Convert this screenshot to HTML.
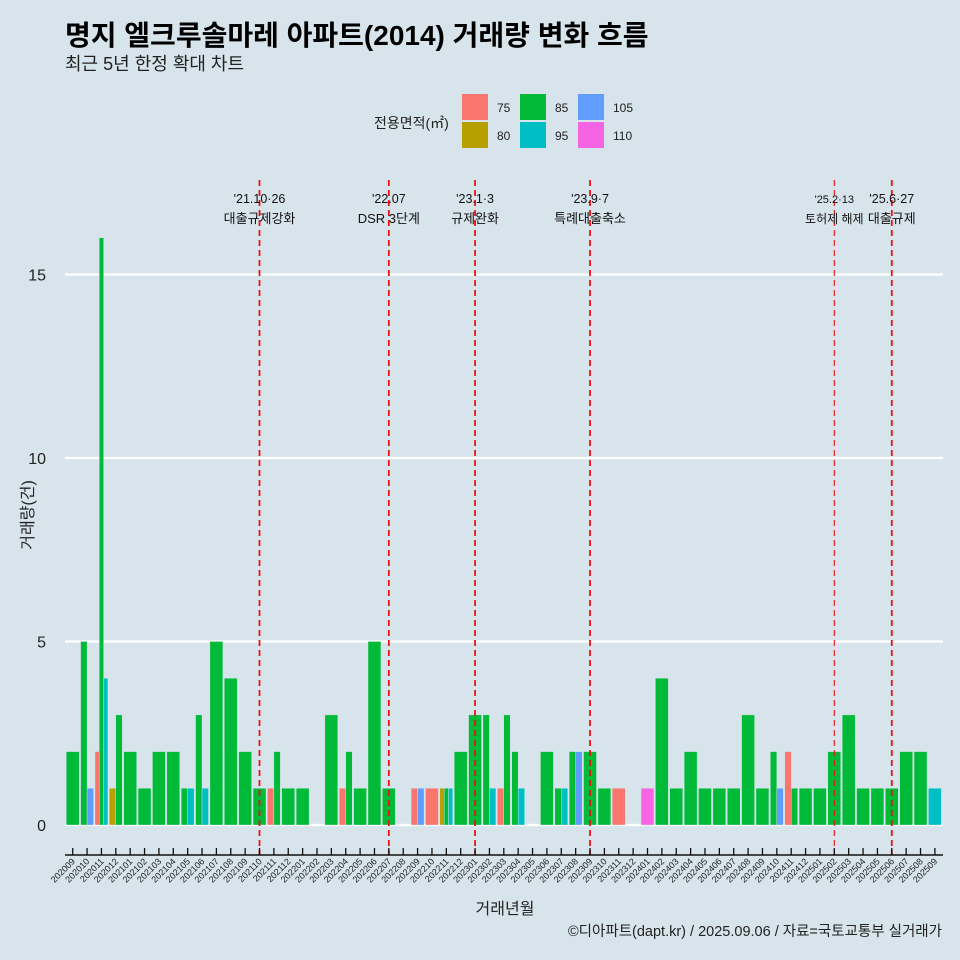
<!DOCTYPE html>
<html><head><meta charset="utf-8">
<style>
body{margin:0;background:#d7e4eb;}
svg{display:block;font-family:"Liberation Sans","Noto Sans CJK KR",sans-serif;}
</style></head>
<body>
<svg id="chart" width="960" height="960" viewBox="0 0 960 960">
<rect width="960" height="960" fill="#d7e4eb"/>
<text x="65" y="45" font-size="28" font-weight="bold" fill="#000">명지 엘크루솔마레 아파트(2014) 거래량 변화 흐름</text>
<text x="65" y="70" font-size="18" fill="#222">최근 5년 한정 확대 차트</text>
<g id="legend">
<text x="374" y="128" font-size="14" fill="#222">전용면적(㎡)</text>
</g>
<g id="grid"></g>
<g id="bars"></g>
<g id="events"></g>
<g id="axes"></g>
<text x="505" y="914" font-size="16" text-anchor="middle" fill="#222">거래년월</text>
<text transform="translate(33,515) rotate(-90)" font-size="16" text-anchor="middle" fill="#222">거래량(건)</text>
<text x="942" y="936" font-size="14.5" text-anchor="end" fill="#222">©디아파트(dapt.kr) / 2025.09.06 / 자료=국토교통부 실거래가</text>
</svg>
<script>
const areas = ["75","80","85","95","105","110"];
const colors = ["#f8766d","#b79f00","#00ba38","#00bfc4","#619cff","#f564e3"];
const months = ["202009","202010","202011","202012","202101","202102","202103","202104","202105","202106","202107","202108","202109","202110","202111","202112","202201","202202","202203","202204","202205","202206","202207","202208","202209","202210","202211","202212","202301","202302","202303","202304","202305","202306","202307","202308","202309","202310","202311","202312","202401","202402","202403","202404","202405","202406","202407","202408","202409","202410","202411","202412","202501","202502","202503","202504","202505","202506","202507","202508","202509"];
// counts per area: [75,80,85,95,105,110]
const s75  = [0,0,2,0,0,0,0,0,0,0,0,0,0,0,1,0,0,0,0,1,0,0,0,0,1,1,0,0,0,0,1,0,0,0,0,0,0,0,1,0,0,0,0,0,0,0,0,0,0,0,2,0,0,0,0,0,0,0,0,0,0];
const s80  = [0,0,0,1,0,0,0,0,0,0,0,0,0,0,0,0,0,0,0,0,0,0,0,0,0,0,1,0,0,0,0,0,0,0,0,0,0,0,0,0,0,0,0,0,0,0,0,0,0,0,0,0,0,0,0,0,0,0,0,0,0];
const s85  = [2,5,16,3,2,1,2,2,1,3,5,4,2,1,2,1,1,0,3,2,1,5,1,0,0,0,1,2,3,3,3,2,0,2,1,2,2,1,0,0,0,4,1,2,1,1,1,3,1,2,1,1,1,2,3,1,1,1,2,2,0];
const s95  = [0,0,4,0,0,0,0,0,1,1,0,0,0,0,0,0,0,0,0,0,0,0,0,0,0,0,1,0,0,1,0,1,0,0,1,0,0,0,0,0,0,0,0,0,0,0,0,0,0,0,0,0,0,0,0,0,0,0,0,0,1];
const s105 = [0,1,0,0,0,0,0,0,0,0,0,0,0,0,0,0,0,0,0,0,0,0,0,0,1,0,0,0,0,0,0,0,0,0,0,2,0,0,0,0,0,0,0,0,0,0,0,0,0,1,0,0,0,0,0,0,0,0,0,0,0];
const s110 = [0,0,0,0,0,0,0,0,0,0,0,0,0,0,0,0,0,0,0,0,0,0,0,0,0,0,0,0,0,0,0,0,0,0,0,0,0,0,0,0,1,0,0,0,0,0,0,0,0,0,0,0,0,0,0,0,0,0,0,0,0];
const yTicks = [0,5,10,15];
const eventMonths = ["202110","202207","202301","202309","202502","202506"];
const eventLine1 = ["'21.10·26","'22.07","'23.1·3","'23.9·7","'25.2·13","'25.6·27"];
const eventLine2 = ["대출규제강화","DSR 3단계","규제완화","특례대출축소","토허제 해제","대출규제"];

const NS="http://www.w3.org/2000/svg";
function mk(tag,attrs,parent){const e=document.createElementNS(NS,tag);for(const k in attrs)e.setAttribute(k,attrs[k]);parent.appendChild(e);return e;}
const x0=72.7, step=14.37;
const xPos=i=>x0+i*step;
const yPos=v=>825-v*36.7;
const series=[s75,s80,s85,s95,s105,s110];

// legend
const lg=document.getElementById('legend');
const legPos=[[462,94],[462,122],[520,94],[520,122],[578,94],[578,122]];
areas.forEach((a,k)=>{
  const r=mk('rect',{x:legPos[k][0],y:legPos[k][1],width:26,height:26,fill:colors[k]},lg);
  
  
  const t=mk('text',{x:legPos[k][0]+35,y:legPos[k][1]+18,'font-size':12,fill:'#222'},lg);
  t.textContent=a;
  
  
});

// grid
const g=document.getElementById('grid');
yTicks.forEach(v=>{
  const l=mk('line',{x1:65,x2:943,y1:yPos(v),y2:yPos(v),stroke:'#fff','stroke-width':2.2},g);
  
  
  const t=mk('text',{x:46,y:yPos(v)+6,'font-size':16,'text-anchor':'end',fill:'#222'},g);
  t.textContent=v;
  
  
});

// bars
const bg=document.getElementById('bars');
const full=step*0.9;
months.forEach((m,i)=>{
  const present=[];
  series.forEach((s,k)=>{if(s[i]>0)present.push(k);});
  const n=present.length; if(!n)return;
  const w=full/n;
  present.forEach((k,j)=>{
    const v=series[k][i];
    const r=mk('rect',{x:xPos(i)-full/2+j*w,y:yPos(v),width:w,height:yPos(0)-yPos(v),fill:colors[k],stroke:'#d7e4eb','stroke-width':0.4},bg);
    
    
  });
});

// events
const ev=document.getElementById('events');
eventMonths.forEach((m,k)=>{
  const i=months.indexOf(m), x=xPos(i);
  const thin=(m==="202502");
  const l=mk('line',{x1:x,x2:x,y1:180,y2:855,stroke:'#ee1111','stroke-width':thin?1.1:1.8,'stroke-dasharray':'6,4'},ev);
  
  
  const t1=mk('text',{x:x,y:203,'font-size':thin?11:12.5,'text-anchor':'middle',fill:'#111'},ev);
  t1.textContent=eventLine1[k];
  
  
  const t2=mk('text',{x:x,y:223,'font-size':thin?12:13,'text-anchor':'middle',fill:'#111'},ev);
  t2.textContent=eventLine2[k];
  
  
});

// x axis
const ax=document.getElementById('axes');
const al=mk('line',{x1:65,x2:943,y1:855,y2:855,stroke:'#111','stroke-width':1.5},ax);


months.forEach((m,i)=>{
  const x=xPos(i);
  const tk=mk('line',{x1:x,x2:x,y1:848,y2:855,stroke:'#111','stroke-width':1.3},ax);
  
  
  const t=mk('text',{transform:`translate(${x+3},${862}) rotate(-45)`,'font-size':9,'text-anchor':'end',fill:'#222'},ax);
  t.textContent=m;
  
  
});
</script>
</body></html>
